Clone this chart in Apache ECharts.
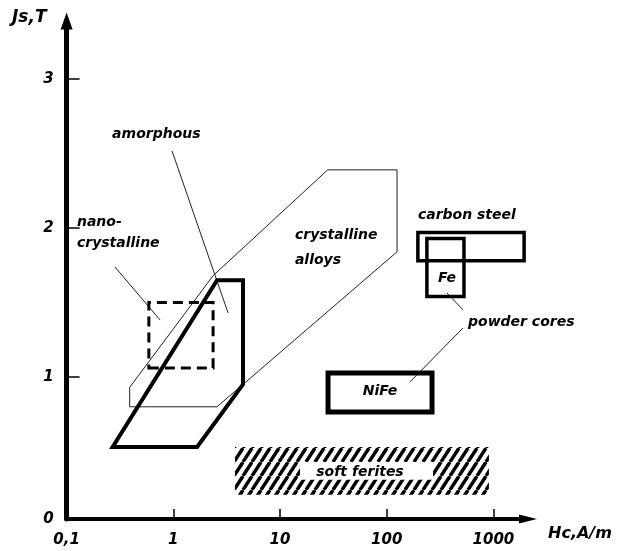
<!DOCTYPE html>
<html><head><meta charset="utf-8">
<script src="https://cdn.jsdelivr.net/npm/echarts@6/dist/echarts.min.js"></script>
<style>html,body{margin:0;padding:0;background:#fff}#c{width:618px;height:551px}</style>
</head><body><div id="c"></div>
<script>
// ---- axis ticks ----
const xTickValues = [0.1, 1, 10, 100, 1000];
const xTickLabels = ['0,1', '1', '10', '100', '1000'];
const yTickValues = [0, 1, 2, 3];
const yTickLabels = ['0', '1', '2', '3'];
const xMin = 0.1, xMax = 2110, yMin = 0.047, yMax = 3.389;
const xAxisName = 'Hc,A/m';
const yAxisName = 'Js,T';

// ---- regions (Hc in A/m, Js in T) ----
const amorphousPts = [[0.27,0.53],[1.67,0.53],[4.5,0.95],[4.5,1.65],[2.57,1.65]];
const crystallinePts = [[0.39,0.80],[0.39,0.93],[2.36,1.68],[28,2.39],[125,2.39],[125,1.84],[2.57,0.80]];
const nanoHc = [0.59, 2.36],  nanoJs = [1.06, 1.50];
const carbonHc = [196, 1940], carbonJs = [1.78, 1.97];
const feHc = [238, 530],      feJs = [1.54, 1.93];
const nifeHc = [28.2, 266],   nifeJs = [0.765, 1.027];
const ferriteHc = [3.78, 908], ferriteJs = [0.21, 0.53];
const ferriteLabelHc = [15.4, 272], ferriteLabelJs = [0.31, 0.43];

// ---- annotations ----
const leaderAmorphous = [[0.973,2.517],[3.26,1.43]];
const leaderNano = [[0.284,1.738],[0.75,1.383]];
const leaderFe = [[367,1.564],[519,1.45]];
const leaderNiFe = [[519,1.329],[165,0.966]];
const labelTexts = ['amorphous','nano-','crystalline','crystalline','alloys','carbon steel','Fe','powder cores','NiFe','soft ferites'];
const labelPos = [[0.267,2.631],[0.125,2.040],[0.125,1.899],[13.8,1.953],[13.8,1.785],[196,2.087],[367,1.664],[578,1.369],[86.5,0.906],[56.2,0.362]];
const labelAlign = ['left','left','left','left','left','left','center','left','center','center'];

const FONT = '"DejaVu Sans", sans-serif';
function rectPts(xr, yr){ return [[xr[0],yr[0]],[xr[1],yr[0]],[xr[1],yr[1]],[xr[0],yr[1]]]; }

function makeHatch(){
  const c = document.createElement('canvas'); const W = 9, H = 14;
  c.width = W; c.height = H;
  const g = c.getContext('2d'); g.strokeStyle = '#000'; g.lineWidth = 3.4;
  for (let k = -1; k <= 1; k++){ g.beginPath(); g.moveTo(k*W, H); g.lineTo((k+1)*W, 0); g.stroke(); }
  return c;
}
const hatch = {type:'pattern', image: makeHatch(), repeat: 'repeat'};

function custom(z, build){
  return {type:'custom', coordinateSystem:'cartesian2d', data:[[1,1]], silent:true, clip:false, z:z,
    renderItem: function(params, api){ return build(api); }};
}
function poly(pts, style){
  return (api) => ({type:'polygon', shape:{points: pts.map(p => api.coord(p))}, style: style});
}
function line(pts, style){
  return (api) => ({type:'polyline', shape:{points: pts.map(p => api.coord(p))}, style: style});
}
const thin = {fill:'none', stroke:'#222', lineWidth:1};

const series = [
  custom(2, poly(rectPts(ferriteHc, ferriteJs), {fill: hatch, stroke:'none'})),
  custom(3, poly(rectPts(ferriteLabelHc, ferriteLabelJs), {fill:'#fff', stroke:'none'})),
  custom(4, poly(crystallinePts, thin)),
  custom(5, poly(amorphousPts, {fill:'none', stroke:'#000', lineWidth:4, lineJoin:'miter'})),
  custom(5, poly(rectPts(nanoHc, nanoJs), {fill:'none', stroke:'#000', lineWidth:3, lineDash:[10,6]})),
  custom(5, poly(rectPts(carbonHc, carbonJs), {fill:'none', stroke:'#000', lineWidth:3.5})),
  custom(5, poly(rectPts(feHc, feJs), {fill:'none', stroke:'#000', lineWidth:3.5})),
  custom(5, poly(rectPts(nifeHc, nifeJs), {fill:'none', stroke:'#000', lineWidth:5})),
  custom(4, line(leaderAmorphous, thin)),
  custom(4, line(leaderNano, thin)),
  custom(4, line(leaderFe, thin)),
  custom(4, line(leaderNiFe, thin)),
  custom(6, (api) => ({type:'group', children: labelTexts.map((t, i) => {
    const p = api.coord(labelPos[i]);
    return {type:'text', x: p[0], y: p[1], style:{text: t, fill:'#000', fontFamily: FONT, fontSize: 14,
      fontWeight:'bold', fontStyle:'italic', align: labelAlign[i], verticalAlign:'middle'}};
  })}))
];

function idxLog(v){ return xTickValues.findIndex(u => Math.abs(Math.log10(u) - Math.log10(v)) < 1e-6); }
const yLabelValues = yTickValues.map(v => Math.max(v, yMin));

const axisFont = {fontFamily: FONT, fontSize: 15, fontWeight:'bold', fontStyle:'italic', color:'#000'};

const option = {
  animation: false,
  backgroundColor: '#fff',
  grid: {left: 66.6, right: 90, top: 21, bottom: 32, outerBoundsMode: 'none', containLabel: false},
  xAxis: {
    type: 'log', logBase: 10, min: xMin, max: xMax,
    axisLine: {show: true, onZero: false, lineStyle: {color:'#000', width: 4}, symbol: ['none','triangle'], symbolSize: [9, 18]},
    axisTick: {show: true, inside: true, length: 10, lineStyle: {color:'#000', width: 1.5}, customValues: xTickValues.slice(1)},
    axisLabel: Object.assign({show: true, margin: 14, customValues: xTickValues,
      formatter: (v) => { const i = idxLog(v); return i >= 0 ? xTickLabels[i] : ''; }}, axisFont),
    splitLine: {show: false}, minorTick: {show: false}
  },
  yAxis: {
    type: 'value', min: yMin, max: yMax,
    axisLine: {show: true, onZero: false, lineStyle: {color:'#000', width: 5}, symbol: ['none','triangle'], symbolSize: [12, 17]},
    axisTick: {show: true, inside: true, length: 13, lineStyle: {color:'#000', width: 1.5}, customValues: yTickValues.slice(1)},
    axisLabel: Object.assign({show: true, margin: 13, customValues: yLabelValues,
      formatter: (v) => { const i = yLabelValues.findIndex(u => Math.abs(u - v) < 1e-6); return i >= 0 ? yTickLabels[i] : ''; }}, axisFont),
    splitLine: {show: false}
  },
  graphic: [
    {type:'text', left: 12, top: 9, style:{text: yAxisName, fill:'#000', fontFamily: FONT, fontSize: 17, fontWeight:'bold', fontStyle:'italic'}},
    {type:'text', left: 548, top: 526, style:{text: xAxisName, fill:'#000', fontFamily: FONT, fontSize: 16, fontWeight:'bold', fontStyle:'italic'}}
  ],
  series: series
};
const chart = echarts.init(document.getElementById('c'), null, {renderer: 'canvas'});
chart.setOption(option);
</script>
</body></html>
